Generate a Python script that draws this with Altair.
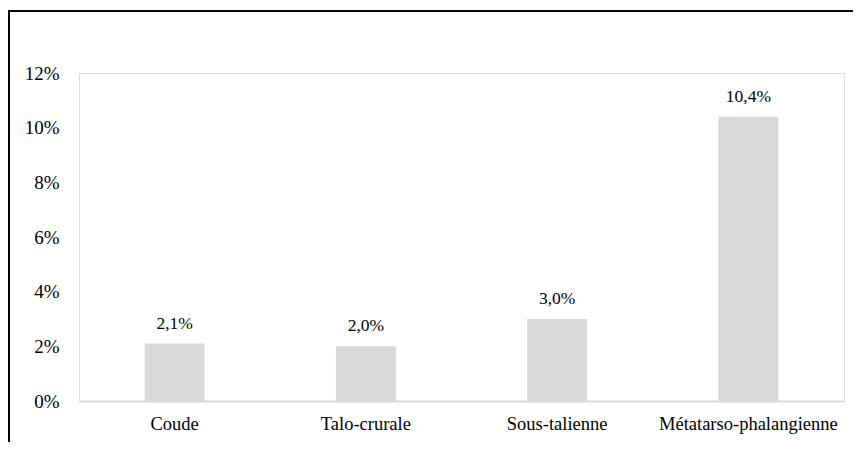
import altair as alt
import pandas as pd

categories = ["Coude", "Talo-crurale", "Sous-talienne", "Métatarso-phalangienne"]
values = [0.021, 0.020, 0.030, 0.104]
y_ticks = [0, 0.02, 0.04, 0.06, 0.08, 0.10, 0.12]

df = pd.DataFrame({
    "cat": categories,
    "val": values,
    "label": [f"{v*100:.1f}%".replace(".", ",") for v in values],
})

W, H = 765, 328
FONT = "Liberation Serif, Times New Roman, serif"

x = alt.X("cat:N", sort=categories, title=None,
          scale=alt.Scale(paddingInner=0, paddingOuter=0),
          axis=alt.Axis(labelAngle=0, labelFont=FONT, labelFontSize=18.5, labelColor="#000",
                        labelPadding=13, ticks=False, domainColor="#d9d9d9", domainWidth=2))
y = alt.Y("val:Q", title=None,
          scale=alt.Scale(domain=[0, 0.12], nice=False),
          axis=alt.Axis(values=y_ticks, format=".0%", grid=False, ticks=False, domain=False,
                        labelFont=FONT, labelFontSize=19, labelColor="#000", labelPadding=20))

bars = alt.Chart(df).mark_bar(color="#d9d9d9", size=60).encode(x=x, y=y)
text = alt.Chart(df).mark_text(font="Liberation Serif", fontSize=17.5, color="#000",
                               baseline="bottom", dy=-11).encode(
    x=alt.X("cat:N", sort=categories), y="val:Q", text="label:N")

frame_top = alt.Chart(df).mark_rule(color="#000", strokeWidth=2).encode(
    x=alt.value(-71), x2=alt.value(W + 40), y=alt.value(-62))
frame_left = alt.Chart(df).mark_rule(color="#000", strokeWidth=2).encode(
    x=alt.value(-70), y=alt.value(-63), y2=alt.value(H + 80))

chart = alt.layer(bars, text, frame_top, frame_left).properties(
    width=W, height=H,
    autosize=alt.AutoSizeParams(type="none"),
    padding={"left": 71, "top": 65, "right": 9, "bottom": 41},
).configure_view(stroke="#bfbfbf", strokeWidth=1).configure(background="white")

chart.save("out.html", embed_options={"renderer": "svg", "actions": False})
